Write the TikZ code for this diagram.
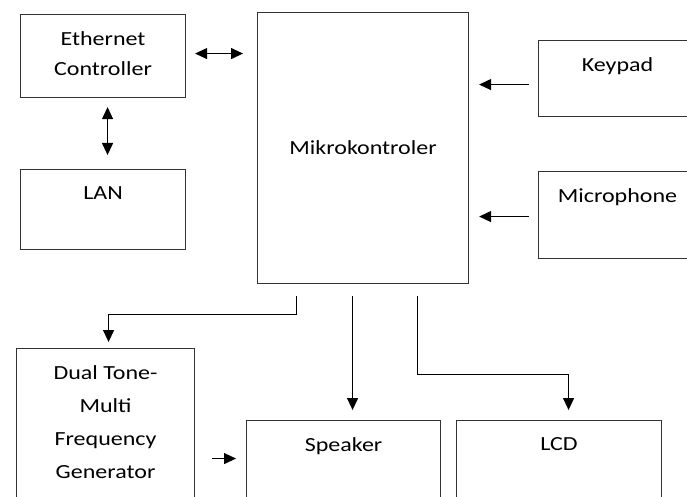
\documentclass[tikz,border=0pt]{standalone}
\usepackage{fontspec}
\setmainfont{Carlito}[FakeStretch=1.2]
\usepackage{tikz}
\newcommand*{\picW}{687}
\newcommand*{\picH}{497}
\usetikzlibrary{positioning}
\usetikzlibrary{calc}
\usetikzlibrary{arrows.meta}
\tikzset{BDstyle/.style={
    x=1pt, y=-1pt,% one unit per pixel, y grows downwards
    every node/.style={font=\fontsize{20}{30}\selectfont},
    blk/.style={% plain block of the diagram
      draw=black!80,
      line width=1.1pt,
      anchor=north west,
      inner sep=0pt
    },
    txt/.style={% caption near the top of a block
      anchor=north,
      inner sep=0pt,
      yshift=-17pt,
      align=center
    },
    arr/.style={% connector
      draw=black,
      line width=1.2pt,
      -{Triangle[length=12pt,width=11pt]}
    },
    >={Triangle[length=12pt,width=11pt]}
  }
}

\begin{document}
\begin{tikzpicture}[BDstyle]
    \useasboundingbox (0,0) rectangle (\picW,\picH);
    \clip (0,0) rectangle (\picW,\picH);

    % blocks
    \node[blk, minimum width=165pt, minimum height=83pt,
          label={[txt]north:Ethernet\\Controller}] (eth) at (20,14) {};
    \node[blk, minimum width=165pt, minimum height=80pt,
          label={[txt]north:LAN}] (lan) at (20,169) {};
    \node[blk, minimum width=211pt, minimum height=271pt] (mcu) at (257,12) {Mikrokontroler};
    \node[blk, minimum width=158pt, minimum height=76pt,
          label={[txt]north:Keypad}] (key) at (538,40) {};
    \node[blk, minimum width=158pt, minimum height=87pt,
          label={[txt]north:Microphone}] (mic) at (538,171) {};
    \node[blk, minimum width=178pt, minimum height=170pt,
          label={[txt, font=\fontsize{20}{33}\selectfont]north:Dual Tone-\\Multi\\Frequency\\Generator}] (dtmf) at (16,348) {};
    \node[blk, minimum width=194pt, minimum height=100pt,
          label={[txt]north:Speaker}] (spk) at (246,420) {};
    \node[blk, minimum width=205pt, minimum height=100pt,
          label={[txt]north:LCD}] (lcd) at (456,420) {};

    % connectors
    \draw[arr, <->, shorten <=9pt, shorten >=14pt] ([yshift=2.5pt]eth.east) -- ([yshift=2.5pt]eth.east -| mcu.west);
    \draw[arr, <->, shorten <=9pt, shorten >=14pt] ([xshift=4.5pt]eth.south) -- ([xshift=4.5pt]lan.north);
    \draw[arr, shorten <=9pt, shorten >=10pt] ([yshift=-6pt]key.west) -- ([yshift=-6pt]key.west -| mcu.east);
    \draw[arr, shorten <=9pt, shorten >=10pt] ([yshift=-1.5pt]mic.west) -- ([yshift=-1.5pt]mic.west -| mcu.east);
    \draw[arr, shorten <=12pt, shorten >=6pt] ([xshift=-66.5pt]mcu.south) -- ++(0,30) -| ([xshift=3pt]dtmf.north);
    \draw[arr, shorten <=12pt, shorten >=10pt] ([xshift=-10.5pt]mcu.south) -- ([xshift=-10.5pt]mcu.south |- spk.north);
    \draw[arr, shorten <=12pt, shorten >=10pt] ([xshift=54.5pt]mcu.south) -- ++(0,90) -| ([xshift=9.5pt]lcd.north);
    \draw[arr, shorten <=17pt, shorten >=10pt] ([yshift=-25pt]dtmf.east) -- ([yshift=-25pt]dtmf.east -| spk.west);
\end{tikzpicture}
\end{document}
